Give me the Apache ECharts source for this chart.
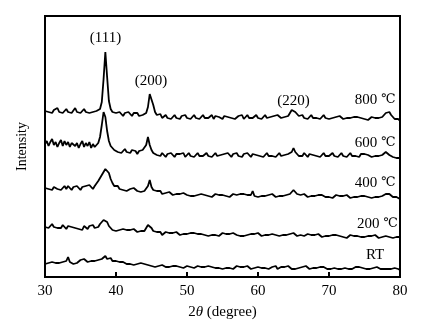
<!DOCTYPE html>
<html><head><meta charset="utf-8">
<script src="https://cdn.jsdelivr.net/npm/echarts@6/dist/echarts.min.js"></script>
<style>html,body{margin:0;padding:0;background:#fff}#c{width:431px;height:330px}</style>
</head><body><div id="c"></div>
<script>
// 2θ grid: 30 to 80 step 0.25 (4 points per degree + final 80)
const xStart = 30, xStep = 0.25;
const xTicks = [30, 40, 50, 60, 70, 80];
const seriesNames = ['800 ℃', '600 ℃', '400 ℃', '200 ℃', 'RT'];
// intensities (a.u., with vertical offsets as shown)
const s800 = [
166,168,165,167, 164,167,166,169, 165,167,164,166, 168,165,167,164, 166,169,165,167,
164,166,168,165, 167,164,166,165, 163,166,164,168, 175,198,225,200, 176,168,165,163,
164,162,165,163, 161,164,162,165, 163,161,164,162, 164,161,163,162, 160,164,170,183,
185,172,165,162, 160,163,159,161, 162,159,161,158, 160,162,159,161, 158,161,160,162,
159,161,158,160, 162,159,161,158, 160,162,159,161, 159,160,162,158, 161,159,160,162,
158,161,159,160, 162,159,161,158, 160,161,159,162, 158,160,162,159, 161,159,160,162,
159,161,158,160, 162,159,161,160, 158,161,159,162, 160,159,161,160, 159,161,164,167,
168,165,163,161, 160,162,159,161, 158,160,162,159, 161,159,160,158, 160,162,159,161,
158,160,159,161, 160,158,161,159, 158,160,159,161, 159,157,160,158, 160,158,159,161,
158,160,157,159, 160,158,159,157, 159,158,160,161, 164,166,165,162, 160,158,157,158,
156];
const s600 = [
133,136,131,135, 138,132,135,130, 134,137,131,136, 132,135,130,134, 136,131,134,129,
133,136,130,134, 131,135,129,133, 130,132,134,140, 152,165,160,146, 136,131,129,127,
128,125,127,124, 126,128,125,127, 124,127,125,126, 123,126,124,127, 127,132,140,132,
127,124,125,122, 123,121,124,122, 120,123,121,124, 122,120,123,121, 123,121,124,120,
122,124,121,123, 120,122,124,121, 123,121,122,124, 121,123,120,122, 124,121,123,122,
120,123,121,124, 122,120,123,121, 124,121,122,120, 123,121,124,122, 120,123,121,122,
124,121,123,120, 122,124,121,123, 121,123,120,122, 124,121,123,122, 121,123,122,125,
129,125,123,121, 123,121,124,122, 120,123,121,122, 124,121,123,120, 122,124,121,123,
121,122,124,121, 123,120,122,124, 121,123,120,122, 124,121,123,121, 122,120,123,121,
123,121,122,124, 120,122,121,123, 121,123,122,124, 125,124,122,121, 120,122,119,121,
119];
const s400 = [
89,91,88,90, 87,90,92,88, 90,87,89,91, 88,91,89,87, 90,88,91,89,
87,90,88,91, 89,92,90,88, 91,93,96,99, 102,105,108,110, 104,98,94,91,
89,91,88,90, 87,89,86,88, 88,86,89,87, 86,88,85,87, 86,88,91,97,
90,87,85,86, 84,86,83,85, 84,82,85,83, 82,84,83,81, 83,81,84,82,
82,84,81,83, 81,83,82,80, 83,81,82,84, 81,83,80,82, 83,81,82,80,
82,84,81,83, 80,82,83,81, 82,80,83,81, 83,81,82,80, 82,86,81,82,
80,82,81,83, 81,80,82,81, 83,81,80,82, 81,83,81,80, 82,81,83,84,
87,85,83,81, 82,80,83,81, 80,82,81,83, 81,79,82,80, 82,81,80,82,
80,82,79,81, 82,80,81,79, 81,79,82,80, 79,81,80,82, 80,78,81,79,
81,79,80,82, 79,81,80,78, 80,79,81,82, 83,85,83,81, 80,78,80,79,
78];
const s200 = [
50,52,49,51, 53,50,52,49, 51,49,52,50, 48,51,49,50, 52,49,51,48,
50,47,51,49, 48,51,49,52, 49,51,50,53, 54,57,59,55, 51,49,47,48,
46,48,47,45, 48,46,47,45, 47,45,48,46, 45,47,46,48, 46,49,52,54,
49,46,44,45, 43,45,42,44, 45,43,44,42, 44,42,45,43, 42,44,43,45,
43,41,44,42, 44,42,43,41, 43,45,42,44, 41,43,42,44, 42,44,41,43,
44,42,43,41, 43,41,44,42, 42,44,41,43, 41,43,42,44, 43,41,43,42,
44,42,41,43, 42,44,42,41, 43,45,42,44, 41,43,42,44, 42,41,43,42,
44,42,41,43, 42,44,41,42, 43,41,42,40, 42,40,43,41, 40,42,41,43,
41,39,42,40, 42,40,41,43, 40,42,39,41, 42,40,41,39, 41,43,40,42,
40,42,41,39, 41,40,42,40, 39,41,40,42, 41,43,40,41, 39,41,40,39,
40];
const sRT = [
13,12,14,13, 15,13,14,12, 14,13,15,14, 16,20,15,14, 13,15,14,13,
17,16,18,16, 15,17,16,18, 16,18,17,19, 18,20,21,18, 17,19,16,15,
16,14,15,13, 15,14,13,15, 13,14,12,14, 13,12,14,12, 13,11,12,13,
11,12,10,12, 11,10,12,11, 10,12,10,11, 11,9,11,10, 10,11,9,10,
11,9,10,12, 9,10,11,9, 10,8,10,9, 11,9,10,8, 9,11,9,10,
8,10,9,11, 9,10,8,10, 11,9,10,8, 10,9,11,9, 8,10,9,10,
10,8,9,11, 9,10,8,9, 10,9,11,8, 9,10,8,10, 9,11,9,8,
10,8,10,9, 8,10,9,11, 9,8,10,9, 10,9,8,10, 8,10,9,8,
9,8,10,9, 10,8,9,8, 8,9,10,8, 9,8,9,10, 8,10,8,9,
9,8,10,8, 8,9,8,10, 9,8,9,8, 10,8,9,8, 8,9,7,8,
7];
const seriesValues = [s800, s600, s400, s200, sRT];
// text annotations in data coordinates
const labelPos = [[76.5, 177], [76.5, 134], [76.5, 94], [76.8, 53], [76.5, 22]];
const peakLabels = ['(111)', '(200)', '(220)'];
const peakPos = [[38.52, 239], [44.93, 196], [65.0, 176]];

const font = '"Liberation Serif", "Times New Roman", serif';
const symFont = '"DejaVu Serif", "Liberation Serif", serif';
function pairs(vals) { return vals.map((v, i) => [xStart + i * xStep, v]); }
function richName(s) { return s.indexOf('℃') >= 0 ? '{n|' + s.replace(' ℃', ' ') + '}{c|℃}' : '{n|' + s + '}'; }
const richStyles = {
  n: { fontFamily: font, fontSize: 15, color: '#000' },
  c: { fontFamily: symFont, fontSize: 13, fontWeight: 'normal', color: '#000' }
};

const series = seriesValues.map((vals, k) => ({
  type: 'line', name: seriesNames[k], data: pairs(vals), showSymbol: false, symbol: 'none',
  lineStyle: { color: '#000', width: 1.8 }, animation: false, silent: true,
  markPoint: {
    symbol: 'circle', symbolSize: 0, silent: true, animation: false,
    label: { show: true, position: 'inside', color: '#000', fontFamily: font, fontSize: 15, rich: richStyles },
    data: [{ coord: labelPos[k], value: seriesNames[k], label: { formatter: richName(seriesNames[k]) } }]
      .concat(k === 0 ? peakLabels.map((t, j) => ({ coord: peakPos[j], value: t, label: { formatter: richName(t) } })) : [])
  }
}));

const chart = echarts.init(document.getElementById('c'), null, { renderer: 'canvas' });
chart.setOption({
  animation: false,
  backgroundColor: '#fff',
  grid: { left: 45, right: 31, top: 16, bottom: 53, show: true, borderColor: '#000', borderWidth: 2, backgroundColor: 'transparent' },
  xAxis: {
    type: 'value', min: 30, max: 80, interval: 10,
    axisLine: { show: false },
    axisTick: { show: true, inside: true, length: 5, lineStyle: { color: '#000', width: 2 } },
    axisLabel: { color: '#000', fontFamily: font, fontSize: 15, margin: 7, formatter: v => xTicks.includes(v) ? String(v) : '' },
    splitLine: { show: false },
    name: '{n|2}{t|θ}{n| (degree)}', nameLocation: 'middle', nameGap: 28,
    nameTextStyle: { rich: { n: { fontFamily: font, fontSize: 15, color: '#000' }, t: { fontFamily: font, fontSize: 15, fontStyle: 'italic', color: '#000' } } }
  },
  yAxis: {
    type: 'value', min: 0, max: 261,
    axisLine: { show: false }, axisTick: { show: false }, axisLabel: { show: false }, splitLine: { show: false },
    name: 'Intensity', nameLocation: 'middle', nameGap: 16, nameRotate: 90,
    nameTextStyle: { fontFamily: font, fontSize: 14, color: '#000' }
  },
  series: series
});
</script></body></html>
